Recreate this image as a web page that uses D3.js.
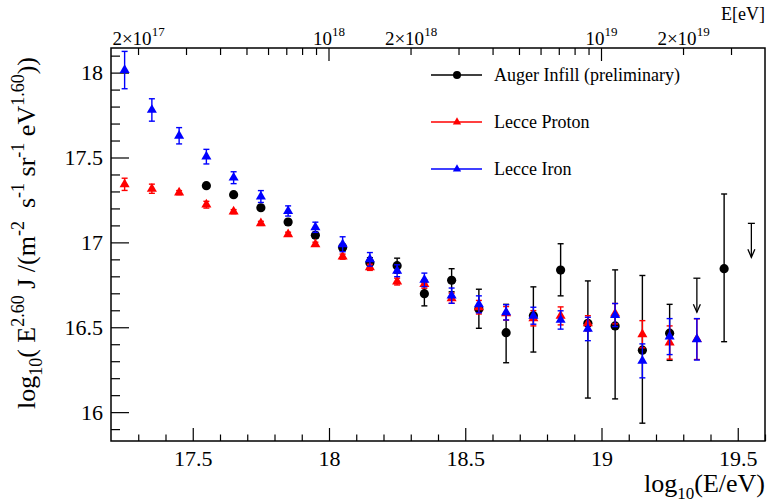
<!DOCTYPE html>
<html>
<head>
<meta charset="utf-8">
<script src="https://cdn.jsdelivr.net/npm/d3@7"></script>
<style>
  html, body { margin: 0; padding: 0; background: #fff; }
  svg, svg text { font-family: 'Liberation Serif', serif !important; }
</style>
</head>
<body>
<svg id="chart" width="768" height="504"></svg>
<script>
// log10(E/eV) bin centres
const protonE = [17.25, 17.35, 17.45, 17.55, 17.65, 17.75, 17.85, 17.95, 18.05, 18.15, 18.25,
                 18.35, 18.45, 18.55, 18.65, 18.75, 18.85, 18.95, 19.05, 19.15, 19.25, 19.35];
const ironE = protonE;
const augerE = [17.55, 17.65, 17.75, 17.85, 17.95, 18.05, 18.15, 18.25, 18.35, 18.45, 18.55,
                18.65, 18.75, 18.85, 18.95, 19.05, 19.15, 19.25, 19.45];

// log10(E^2.6 J)
const augerVal   = [17.334, 17.281, 17.204, 17.120, 17.042, 16.970, 16.880, 16.863, 16.698, 16.777, 16.608,
                    16.468, 16.568, 16.837, 16.523, 16.508, 16.365, 16.465, 16.845];
const augerErrUp = [0.012, 0.012, 0.013, 0.015, 0.017, 0.020, 0.030, 0.044, 0.065, 0.068, 0.116,
                    0.167, 0.170, 0.155, 0.250, 0.330, 0.440, 0.170, 0.440];
const augerErrLo = [0.012, 0.012, 0.013, 0.015, 0.017, 0.020, 0.030, 0.044, 0.072, 0.068, 0.114,
                    0.177, 0.214, 0.152, 0.440, 0.430, 0.430, 0.160, 0.430];

const protonVal = [17.342, 17.316, 17.293, 17.222, 17.181, 17.112, 17.048, 16.989, 16.916, 16.853, 16.769,
                   16.755, 16.671, 16.618, 16.582, 16.553, 16.567, 16.523, 16.580, 16.459, 16.410, 16.430];
const protonErr = [0.036, 0.027, 0.012, 0.020, 0.012, 0.012, 0.012, 0.012, 0.015, 0.018, 0.020,
                   0.025, 0.030, 0.040, 0.040, 0.045, 0.053, 0.045, 0.060, 0.080, 0.098, 0.120];

const ironVal = [18.015, 17.780, 17.628, 17.505, 17.381, 17.270, 17.185, 17.089, 16.989, 16.900, 16.833,
                 16.779, 16.686, 16.635, 16.588, 16.568, 16.543, 16.490, 16.572, 16.302, 16.445, 16.429];
const ironErr = [0.110, 0.066, 0.048, 0.043, 0.035, 0.035, 0.030, 0.030, 0.044, 0.040, 0.035,
                 0.040, 0.045, 0.050, 0.045, 0.050, 0.054, 0.069, 0.068, 0.100, 0.106, 0.122];

// Auger upper limits
const limitE   = [19.35, 19.55];
const limitVal = [16.789, 17.112];
const limitArrowLen = 0.2;

// axis ticks
const xMajorTicks = [17.5, 18, 18.5, 19, 19.5];
const yMajorTicks = [16, 16.5, 17, 17.5, 18];
const topTickEnergies = [2e17, 3e17, 4e17, 5e17, 6e17, 7e17, 8e17, 9e17,
                         1e18, 2e18, 3e18, 4e18, 5e18, 6e18, 7e18, 8e18, 9e18,
                         1e19, 2e19, 3e19];
const topLabelEnergies = [2e17, 1e18, 2e18, 1e19, 2e19];

const legendNames = ["Auger Infill (preliminary)", "Lecce Proton", "Lecce Iron"];
const colors = { auger: "#000000", proton: "#ff0000", iron: "#0000ff" };

const SERIF = "'Liberation Serif', serif";
const svg = d3.select("#chart").style("font-family", SERIF);
const L = 111, R = 765, T = 48, B = 441;

const x = d3.scaleLinear().domain([17.2, 19.6]).range([L, R]);
const y = d3.scaleLinear().domain([15.83, 18.145]).range([B, T]);

const xMinor = d3.range(173, 197).map(v => v / 10).filter(v => xMajorTicks.indexOf(v) < 0);
const yMinor = d3.range(159, 182).map(v => v / 10).filter(v => v >= 15.83 && v <= 18.145 && yMajorTicks.indexOf(v) < 0);

function styleAxis(g) {
  g.attr("font-family", null).style("font-family", SERIF);
  g.select(".domain").remove();
  g.selectAll(".tick line").attr("stroke", "#000").attr("stroke-width", 1.2);
  g.selectAll(".tick text").attr("fill", "#000").style("font-family", SERIF);
}

// bottom axis
svg.append("g").attr("transform", `translate(0,${B})`)
  .call(d3.axisBottom(x).tickValues(xMinor).tickSize(-6.5).tickFormat(""))
  .call(styleAxis);
svg.append("g").attr("transform", `translate(0,${B})`)
  .call(d3.axisBottom(x).tickValues(xMajorTicks).tickSize(-13).tickPadding(9)
        .tickFormat(d => String(d)))
  .call(styleAxis)
  .call(g => g.selectAll(".tick text").attr("font-size", 22));

// left axis
svg.append("g").attr("transform", `translate(${L},0)`)
  .call(d3.axisLeft(y).tickValues(yMinor).tickSize(-9).tickFormat(""))
  .call(styleAxis);
svg.append("g").attr("transform", `translate(${L},0)`)
  .call(d3.axisLeft(y).tickValues(yMajorTicks).tickSize(-18).tickPadding(8)
        .tickFormat(d => String(d)))
  .call(styleAxis)
  .call(g => g.selectAll(".tick text").attr("font-size", 22));

// top axis in energy
const topG = svg.append("g").attr("transform", `translate(0,${T})`);
topG.selectAll("line.tt").data(topTickEnergies).join("line")
  .attr("class", "tt")
  .attr("x1", d => x(Math.log10(d))).attr("x2", d => x(Math.log10(d)))
  .attr("y1", 0)
  .attr("y2", d => Math.abs(Math.log10(d) - Math.round(Math.log10(d))) < 1e-9 ? 13 : 7)
  .attr("stroke", "#000").attr("stroke-width", 1.2);
const topLab = topG.selectAll("text.tl").data(topLabelEnergies).join("text")
  .attr("class", "tl")
  .attr("x", d => x(Math.log10(d)))
  .attr("y", -3)
  .attr("text-anchor", "middle")
  .attr("font-size", 19);
topLab.each(function(d) {
  const n = Math.floor(Math.log10(d) + 1e-9);
  const m = Math.round(d / Math.pow(10, n));
  const t = d3.select(this);
  t.append("tspan").text((m === 1 ? "" : m + "\u00d7") + "10");
  t.append("tspan").attr("font-size", 13).attr("dy", -9).text(n);
});

// frame
svg.append("rect").attr("x", L).attr("y", T).attr("width", R - L).attr("height", B - T)
  .attr("fill", "none").attr("stroke", "#000").attr("stroke-width", 1.5);

// axis titles
svg.append("text").attr("x", R).attr("y", 20).attr("text-anchor", "end")
  .attr("font-size", 18).text("E[eV]");

const xt = svg.append("text").attr("x", R).attr("y", 492).attr("text-anchor", "end").attr("font-size", 26);
xt.append("tspan").text("log");
xt.append("tspan").attr("font-size", 17).attr("dy", 7).text("10");
xt.append("tspan").attr("dy", -7).text("(E/eV)");

const yt = svg.append("text")
  .attr("transform", "translate(35,233) rotate(-90)")
  .attr("text-anchor", "middle").attr("font-size", 26)
  .attr("xml:space", "preserve");
const yParts = [
  ["log", 0], ["10", 1], ["( E", 0], ["2.60", -1], [" J /(m", 0], ["-2", -1],
  ["  s", 0], ["-1", -1], [" sr", 0], ["-1", -1], [" eV", 0], ["1.60", -1], ["))", 0]
];
let prevShift = 0;
yParts.forEach(([txt, kind]) => {
  const shift = kind === 1 ? 7 : kind === -1 ? -11 : 0;
  yt.append("tspan")
    .attr("font-size", kind === 0 ? 26 : 18)
    .attr("dy", shift - prevShift)
    .text(txt);
  prevShift = shift;
});

// plotting helpers
const plot = svg.append("g");
function errorBars(es, vs, up, lo, color) {
  const g = plot.append("g").attr("stroke", color).attr("stroke-width", 1.4);
  es.forEach((e, i) => {
    const cx = x(e), y1 = y(vs[i] + up[i]), y2 = y(vs[i] - lo[i]);
    g.append("line").attr("x1", cx).attr("x2", cx).attr("y1", y1).attr("y2", y2);
    g.append("line").attr("x1", cx - 3).attr("x2", cx + 3).attr("y1", y1).attr("y2", y1);
    g.append("line").attr("x1", cx - 3).attr("x2", cx + 3).attr("y1", y2).attr("y2", y2);
  });
}
function triangles(es, vs, color, size) {
  plot.append("g").selectAll("path").data(es).join("path")
    .attr("d", d3.symbol().type(d3.symbolTriangle).size(size)())
    .attr("transform", (e, i) => `translate(${x(e)},${y(vs[i])})`)
    .attr("fill", color);
}
function circles(es, vs, color, r) {
  plot.append("g").selectAll("circle").data(es).join("circle")
    .attr("cx", e => x(e)).attr("cy", (e, i) => y(vs[i])).attr("r", r)
    .attr("fill", color);
}

// Auger data with upper limits
errorBars(augerE, augerVal, augerErrUp, augerErrLo, "#000");
const lim = plot.append("g").attr("stroke", "#000").attr("stroke-width", 1.3).attr("fill", "none");
limitE.forEach((e, i) => {
  const cx = x(e), yTop = y(limitVal[i]), yTip = y(limitVal[i] - limitArrowLen);
  lim.append("line").attr("x1", cx).attr("x2", cx).attr("y1", yTop).attr("y2", yTip);
  lim.append("line").attr("x1", cx - 3.5).attr("x2", cx + 3.5).attr("y1", yTop).attr("y2", yTop);
  lim.append("path").attr("d", `M${cx - 3.5},${yTip - 8}L${cx},${yTip}L${cx + 3.5},${yTip - 8}`);
});
circles(augerE, augerVal, colors.auger, 4.6);

// Lecce simulations
errorBars(protonE, protonVal, protonErr, protonErr, colors.proton);
triangles(protonE, protonVal, colors.proton, 44);
errorBars(ironE, ironVal, ironErr, ironErr, colors.iron);
triangles(ironE, ironVal, colors.iron, 44);

// legend
const legRows = [75, 122, 169];
const leg = svg.append("g");
legendNames.forEach((name, i) => {
  const ly = legRows[i];
  const c = [colors.auger, colors.proton, colors.iron][i];
  leg.append("line").attr("x1", 431).attr("x2", 482).attr("y1", ly).attr("y2", ly)
    .attr("stroke", c).attr("stroke-width", 1.3);
  if (i === 0) {
    leg.append("circle").attr("cx", 457).attr("cy", ly).attr("r", 4).attr("fill", c);
  } else {
    leg.append("path").attr("d", d3.symbol().type(d3.symbolTriangle).size(30)())
      .attr("transform", `translate(457,${ly})`).attr("fill", c);
  }
  leg.append("text").attr("x", 494).attr("y", ly + 6).attr("font-size", 18).text(name);
});
</script>
</body>
</html>
